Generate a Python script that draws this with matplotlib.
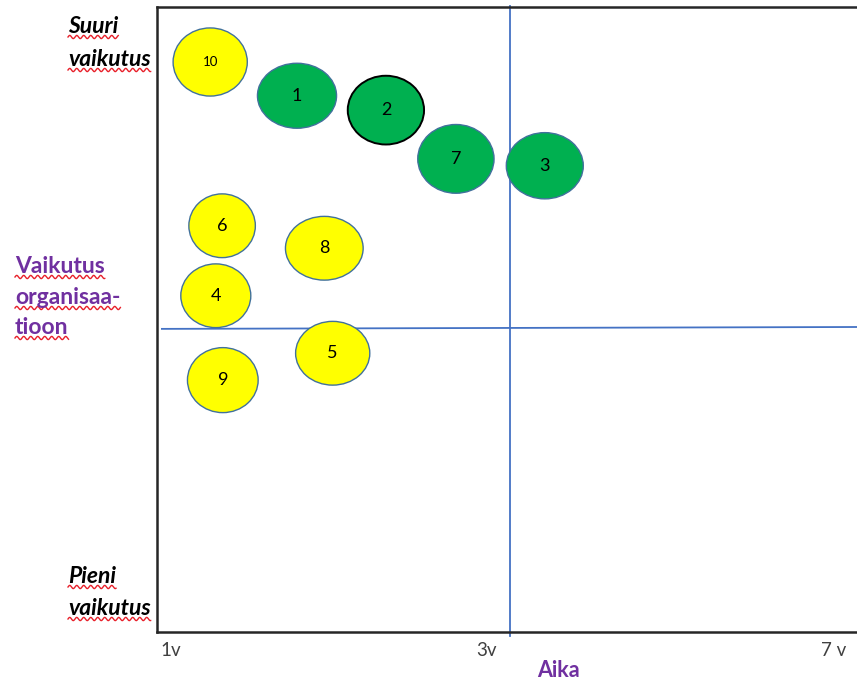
import numpy as np
import matplotlib
matplotlib.use("Agg")
import matplotlib.pyplot as plt
from matplotlib.patches import Ellipse

# bubble data (x = time position, y = impact, both on a 0-100 scale)
labels = ["10", "1", "2", "7", "3", "6", "8", "4", "5", "9"]
x_pos = [7.6, 20.0, 32.7, 42.7, 55.4, 9.3, 23.9, 8.4, 25.1, 9.4]
y_pos = [91.2, 85.8, 83.5, 75.7, 74.6, 65.0, 61.4, 53.8, 44.6, 40.3]
widths = [10.6, 11.3, 10.9, 10.9, 11.0, 9.5, 11.1, 10.0, 10.6, 10.1]
heights = [10.9, 10.4, 11.0, 11.0, 10.6, 10.2, 10.2, 10.2, 10.2, 10.4]
groups = ["y", "g", "g", "g", "g", "y", "y", "y", "y", "y"]

tick_pos = [1.9, 47.0, 96.6]
tick_labels = ["1v", "3v", "7 v"]

W, H = 857, 683
plt.rcParams["font.family"] = ["Lato", "DejaVu Sans"]
fig = plt.figure(figsize=(W / 100, H / 100), dpi=100)
ax = fig.add_axes([157 / W, 51 / H, 1 - 157 / W, 625 / H])
ax.set_xlim(0, 100)
ax.set_ylim(0, 100)

fill = {"y": "#FFFF00", "g": "#00B050"}
for lab, x, y, w, h, g in zip(labels, x_pos, y_pos, widths, heights, groups):
    edge = "black" if lab == "2" else "#41719C"
    ax.add_patch(Ellipse((x, y), w, h, facecolor=fill[g], edgecolor=edge,
                         linewidth=1.4 if lab == "2" else 1.0, zorder=3))
    ax.text(x, y, lab, ha="center", va="center", zorder=4,
            fontsize=9.5 if lab == "10" else 13, color="black")

# quadrant lines
ax.plot([0.7, 100], [48.5, 48.8], color="#4472C4", lw=1.3, zorder=2, clip_on=False)
ax.plot([50.4, 50.4], [-0.7, 100.2], color="#4472C4", lw=1.3, zorder=2, clip_on=False)

for s in ["left", "top", "bottom"]:
    ax.spines[s].set_linewidth(1.8)
    ax.spines[s].set_color("#262626")
ax.spines["right"].set_visible(False)
ax.set_yticks([])
ax.set_xticks(tick_pos)
ax.set_xticklabels(tick_labels, fontsize=13.5, color="#404040")
ax.tick_params(axis="x", length=0, pad=7)


def px(x, y):
    return x / W, 1 - y / H


side_texts = [
    ("Suuri", 68, 33, "black", "italic"),
    ("vaikutus", 68, 66, "black", "italic"),
    ("Vaikutus", 15, 273, "#7030A0", "normal"),
    ("organisaa-", 15, 304, "#7030A0", "normal"),
    ("tioon", 15, 334, "#7030A0", "normal"),
    ("Pieni", 68, 583, "black", "italic"),
    ("vaikutus", 68, 615, "black", "italic"),
]
texts = []
for s, x, y, c, st in side_texts:
    t = fig.text(*px(x, y), s, color=c, fontsize=16.5, fontweight="bold",
                 fontstyle=st, ha="left", va="baseline")
    texts.append((t, y))

fig.text(*px(558, 677), "Aika", color="#7030A0", fontsize=15.5,
         fontweight="bold", ha="center", va="baseline")

# red spell-check squiggles under the side texts
fig.canvas.draw()
r = fig.canvas.get_renderer()
for t, y in texts:
    bb = t.get_window_extent(r)
    xs = np.linspace(bb.x0, bb.x1, 200)
    ys = (H - y - 4) + 1.6 * np.sin((xs - bb.x0) / 7.0 * 2 * np.pi)
    fig.add_artist(plt.Line2D(xs / W, ys / H, color="#E8202A", lw=1.0))

fig.savefig("out.png", dpi=100)
